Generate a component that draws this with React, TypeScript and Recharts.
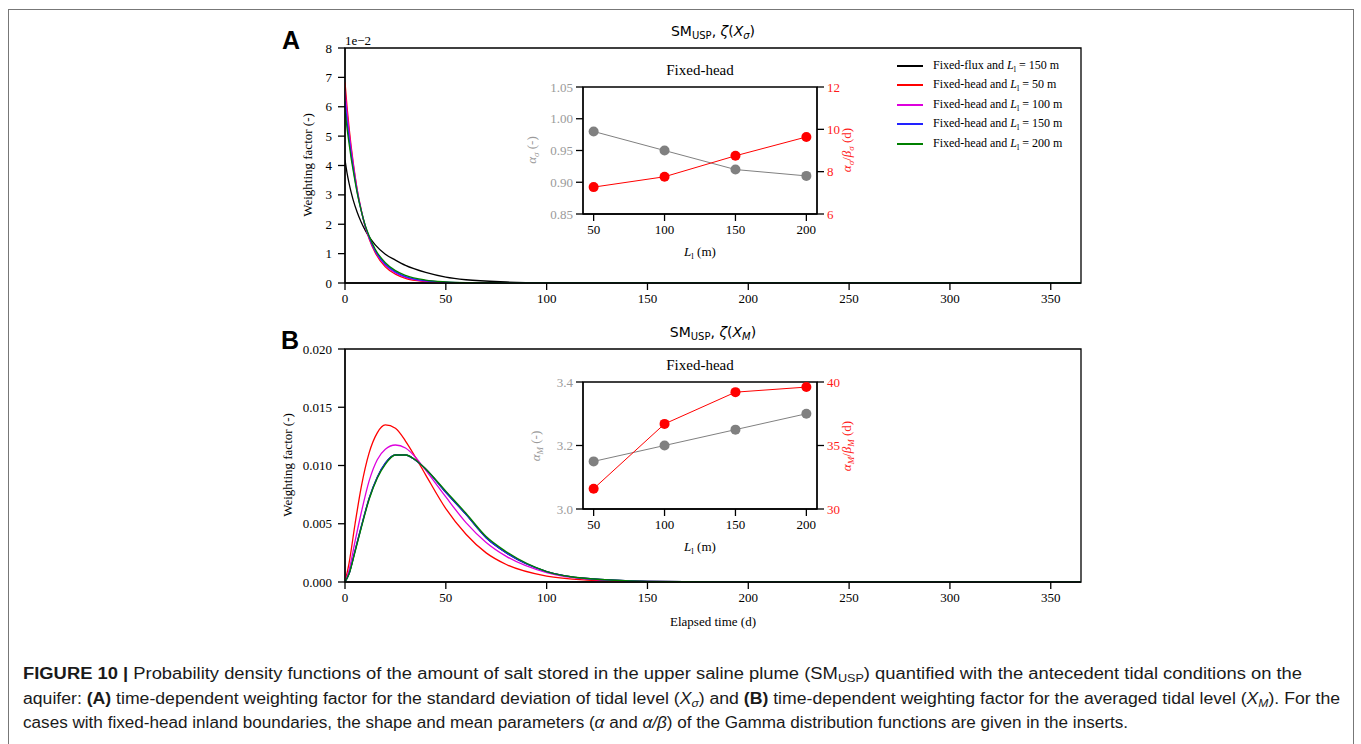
import React from 'react';
import { LineChart, Line, XAxis, YAxis, ReferenceArea, Legend } from 'recharts';

// ---- panel A: weighting factor for X_sigma (values in units of 1e-2) ----
const daysA = [0, 1, 2, 3, 4, 6, 8, 10, 12, 15, 20, 25, 30, 40, 50, 60, 80, 100, 150, 200, 365];
const fluxA = [4.19, 3.75, 3.4, 3.1, 2.84, 2.42, 2.08, 1.8, 1.57, 1.3, 0.98, 0.78, 0.6, 0.36, 0.2, 0.11, 0.035, 0.01, 0, 0, 0];
const head50A = [6.83, 6.0, 5.3, 4.68, 4.13, 3.2, 2.5, 1.92, 1.5, 1.03, 0.55, 0.3, 0.16, 0.05, 0.015, 0.005, 0, 0, 0, 0, 0];
const head100A = [6.55, 5.8, 5.15, 4.58, 4.07, 3.18, 2.5, 1.95, 1.53, 1.07, 0.6, 0.34, 0.19, 0.065, 0.022, 0.008, 0.001, 0, 0, 0, 0];
const head150A = [6.2, 5.5, 4.92, 4.4, 3.94, 3.12, 2.47, 1.95, 1.56, 1.1, 0.64, 0.38, 0.22, 0.08, 0.03, 0.011, 0.002, 0, 0, 0, 0];
const head200A = [5.9, 5.28, 4.75, 4.27, 3.85, 3.08, 2.47, 1.97, 1.6, 1.15, 0.69, 0.42, 0.26, 0.1, 0.04, 0.015, 0.003, 0, 0, 0, 0];

// ---- panel B: weighting factor for X_M ----
const daysB = [0, 2, 5, 8, 12, 16, 20, 25, 30, 35, 40, 50, 60, 70, 80, 100, 120, 150, 200, 365];
const fluxB = [0, 0.0007, 0.0027, 0.0047, 0.0072, 0.009, 0.0102, 0.0109, 0.0109, 0.01045, 0.0097, 0.0077, 0.0058, 0.0038, 0.0025, 0.0009, 0.0003, 0.00006, 0, 0];
const head50B = [0, 0.0016, 0.005, 0.0081, 0.0111, 0.0128, 0.01348, 0.0132, 0.0121, 0.0107, 0.0092, 0.0063, 0.0041, 0.0025, 0.0015, 0.0005, 0.00017, 0.00003, 0, 0];
const head100B = [0, 0.001, 0.0035, 0.0059, 0.0087, 0.0105, 0.0114, 0.01176, 0.0115, 0.0107, 0.0096, 0.0073, 0.0051, 0.0034, 0.0022, 0.0008, 0.00025, 0.00005, 0, 0];
const head150B = [0, 0.0007, 0.0027, 0.0047, 0.0072, 0.009, 0.0102, 0.0109, 0.0109, 0.01045, 0.0097, 0.0077, 0.0058, 0.0038, 0.0025, 0.0009, 0.0003, 0.00006, 0, 0];
const head200B = [0, 0.0007, 0.0026, 0.0046, 0.0071, 0.0089, 0.0101, 0.0109, 0.0109, 0.01047, 0.0097, 0.0078, 0.0059, 0.0039, 0.0026, 0.0009, 0.0003, 0.00006, 0, 0];

// ---- insets (fixed-head cases) ----
const insetL = [50, 100, 150, 200];
const alphaSigma = [0.98, 0.95, 0.92, 0.91];
const meanSigma = [7.27, 7.76, 8.75, 9.64];
const alphaM = [3.15, 3.2, 3.25, 3.3];
const meanM = [31.6, 36.7, 39.2, 39.6];

const xTicks = [0, 50, 100, 150, 200, 250, 300, 350];
const yTicksA = [0, 1, 2, 3, 4, 5, 6, 7, 8];
const yTicksB = [0, 0.005, 0.01, 0.015, 0.02];

const series = [
  { key: 'flux', kind: 'Fixed-flux', L: 150, color: '#000000' },
  { key: 'h50', kind: 'Fixed-head', L: 50, color: '#ff0000' },
  { key: 'h100', kind: 'Fixed-head', L: 100, color: '#dd00dd' },
  { key: 'h150', kind: 'Fixed-head', L: 150, color: '#2222ff' },
  { key: 'h200', kind: 'Fixed-head', L: 200, color: '#008000' },
];

const tableA = daysA.map((t, i) => ({
  t, flux: fluxA[i], h50: head50A[i], h100: head100A[i], h150: head150A[i], h200: head200A[i],
}));
const tableB = daysB.map((t, i) => ({
  t, flux: fluxB[i], h50: head50B[i], h100: head100B[i], h150: head150B[i], h200: head200B[i],
}));
const insetSigma = insetL.map((L, i) => ({ L, a: alphaSigma[i], m: meanSigma[i] }));
const insetM = insetL.map((L, i) => ({ L, a: alphaM[i], m: meanM[i] }));

const SERIF = '"Liberation Serif", "DejaVu Serif", serif';
const SANS = '"DejaVu Sans", sans-serif';
const tickStyle = { fontFamily: SERIF, fontSize: 13, fill: '#000' };
const axisStroke = { stroke: '#000', strokeWidth: 1.3 };

const Txt = ({ x, y, rot, style, children }: any) => (
  <div
    style={{
      position: 'absolute', left: x, top: y, whiteSpace: 'nowrap', lineHeight: 1,
      transform: `translate(-50%, -50%)${rot ? ' rotate(-90deg)' : ''}`, ...style,
    }}
  >
    {children}
  </div>
);

const LegendBox = (props: any) => {
  const { payload } = props;
  return (
    <div style={{ fontFamily: SERIF, fontSize: 12, color: '#000' }}>
      {(payload || []).map((p: any) => {
        const s = series.find((x) => x.key === p.dataKey)!;
        return (
          <div key={p.dataKey} style={{ display: 'flex', alignItems: 'center', height: 19.5 }}>
            <div style={{ width: 26, height: 2, background: s.color, marginRight: 10 }} />
            <span>
              {s.kind} and <i>L</i>
              <sub style={{ fontSize: 8 }}>l</sub> = {s.L} m
            </span>
          </div>
        );
      })}
    </div>
  );
};

const MainChart = ({ data, yDomain, yTicks, fmt, top, height, showLegend }: any) => (
  <div style={{ position: 'absolute', left: 0, top }}>
    <LineChart width={1361} height={height} data={data} margin={{ top: 28, right: 280, left: 285, bottom: 8 }}>
      <XAxis
        dataKey="t" type="number" domain={[0, 365]} ticks={xTicks} height={30}
        tickSize={7} tickMargin={4} tick={tickStyle} axisLine={axisStroke} tickLine={axisStroke}
        allowDataOverflow
      />
      <YAxis
        type="number" domain={yDomain} ticks={yTicks} width={60} tickFormatter={fmt}
        tickSize={7} tickMargin={6} tick={tickStyle} axisLine={axisStroke} tickLine={axisStroke}
        allowDataOverflow
      />
      <ReferenceArea
        x1={0} x2={365} y1={yDomain[0]} y2={yDomain[1]} fill="none" fillOpacity={0}
        stroke="#000" strokeWidth={1.3} ifOverflow="visible"
      />
      {series.map((s) => (
        <Line
          key={s.key} dataKey={s.key} name={s.kind} type="monotone" stroke={s.color}
          strokeWidth={1.3} dot={false} isAnimationActive={false}
        />
      ))}
      {showLegend && (
        <Legend
          content={<LegendBox />} layout="vertical" verticalAlign="middle" align="center"
          wrapperStyle={{ left: 897, top: 36, width: 190 }}
        />
      )}
    </LineChart>
  </div>
);

const Inset = ({ data, top, aDomain, aTicks, aFmt, mDomain, mTicks }: any) => (
  <div style={{ position: 'absolute', left: 520, top }}>
    <LineChart width={340} height={210} data={data} margin={{ top: 27, right: 13, left: 13, bottom: 31 }}>
      <XAxis
        dataKey="L" type="number" domain={[42.5, 207.5]} ticks={insetL} height={25}
        tickSize={7} tickMargin={4} tick={tickStyle} axisLine={axisStroke} tickLine={axisStroke}
      />
      <YAxis
        yAxisId="a" type="number" domain={aDomain} ticks={aTicks} width={50} tickFormatter={aFmt}
        tickSize={7} tickMargin={3} tick={{ ...tickStyle, fill: '#9a9a9a' }} axisLine={axisStroke} tickLine={axisStroke}
      />
      <YAxis
        yAxisId="m" orientation="right" type="number" domain={mDomain} ticks={mTicks} width={30}
        tickSize={7} tickMargin={3} tick={{ ...tickStyle, fill: '#ff1a1a' }} axisLine={axisStroke} tickLine={axisStroke}
      />
      <ReferenceArea
        yAxisId="a" x1={42.5} x2={207.5} y1={aDomain[0]} y2={aDomain[1]} fill="none" fillOpacity={0}
        stroke="#000" strokeWidth={1.3} ifOverflow="visible"
      />
      <Line
        yAxisId="a" dataKey="a" stroke="#808080" strokeWidth={1} isAnimationActive={false}
        dot={{ r: 5, fill: '#808080', stroke: 'none' }}
      />
      <Line
        yAxisId="m" dataKey="m" stroke="#ff0000" strokeWidth={1} isAnimationActive={false}
        dot={{ r: 5, fill: '#ff0000', stroke: 'none' }}
      />
    </LineChart>
  </div>
);

const Title = ({ y, sub }: any) => (
  <Txt x={713} y={y} style={{ fontFamily: SANS, fontSize: 14 }}>
    SM<sub style={{ fontSize: 10, verticalAlign: '-3px' }}>USP</sub>, <i>ζ</i>(<i>X</i>
    <sub style={{ fontSize: 10, verticalAlign: '-3px' }}><i>{sub}</i></sub>)
  </Txt>
);

const Sub = ({ children }: any) => (
  <tspan dy={3} fontSize={11}>{children}</tspan>
);

export default function App() {
  return (
    <div style={{ position: 'absolute', left: 0, top: 0, width: 1361, height: 744, background: '#fff', overflow: 'hidden' }}>
      {/* figure frame */}
      <div style={{ position: 'absolute', left: 8, top: 9, width: 1344, height: 760, border: '1px solid #777' }} />

      <MainChart data={tableA} yDomain={[0, 8]} yTicks={yTicksA} fmt={(v: number) => `${v}`} top={20} height={301} showLegend />
      <MainChart data={tableB} yDomain={[0, 0.02]} yTicks={yTicksB} fmt={(v: number) => v.toFixed(3)} top={321} height={299} />

      <Inset data={insetSigma} top={60} aDomain={[0.85, 1.05]} aTicks={[0.85, 0.9, 0.95, 1.0, 1.05]}
        aFmt={(v: number) => v.toFixed(2)} mDomain={[6, 12]} mTicks={[6, 8, 10, 12]} />
      <Inset data={insetM} top={355} aDomain={[3.0, 3.4]} aTicks={[3.0, 3.2, 3.4]}
        aFmt={(v: number) => v.toFixed(1)} mDomain={[30, 40]} mTicks={[30, 35, 40]} />

      {/* panel letters, titles, labels */}
      <Txt x={291} y={40} style={{ fontFamily: '"Liberation Sans", Arial, sans-serif', fontWeight: 700, fontSize: 25 }}>A</Txt>
      <Txt x={290} y={340} style={{ fontFamily: '"Liberation Sans", Arial, sans-serif', fontWeight: 700, fontSize: 25 }}>B</Txt>
      <Txt x={358} y={40} style={{ fontFamily: SERIF, fontSize: 13 }}>1e−2</Txt>
      <Title y={32} sub="σ" />
      <Title y={333} sub="M" />
      <Txt x={307} y={165} rot style={{ fontFamily: SERIF, fontSize: 13 }}>Weighting factor (-)</Txt>
      <Txt x={287} y={465} rot style={{ fontFamily: SERIF, fontSize: 13 }}>Weighting factor (-)</Txt>
      <Txt x={713} y={621} style={{ fontFamily: SERIF, fontSize: 13 }}>Elapsed time (d)</Txt>

      <Txt x={700} y={70} style={{ fontFamily: SERIF, fontSize: 15 }}>Fixed-head</Txt>
      <Txt x={700} y={365} style={{ fontFamily: SERIF, fontSize: 15 }}>Fixed-head</Txt>
      <Txt x={700} y={253} style={{ fontFamily: SERIF, fontSize: 13 }}><i>L</i><sub style={{ fontSize: 9 }}>l</sub> (m)</Txt>
      <Txt x={700} y={548} style={{ fontFamily: SERIF, fontSize: 13 }}><i>L</i><sub style={{ fontSize: 9 }}>l</sub> (m)</Txt>
      <Txt x={533} y={150} rot style={{ fontFamily: SERIF, fontSize: 13, color: '#9a9a9a' }}>
        <i>α</i><sub style={{ fontSize: 9 }}><i>σ</i></sub> (-)
      </Txt>
      <Txt x={848} y={150} rot style={{ fontFamily: SERIF, fontSize: 13, color: '#ff1a1a' }}>
        <i>α</i><sub style={{ fontSize: 9 }}><i>σ</i></sub>/<i>β</i><sub style={{ fontSize: 9 }}><i>σ</i></sub> (d)
      </Txt>
      <Txt x={537} y={446} rot style={{ fontFamily: SERIF, fontSize: 13, color: '#9a9a9a' }}>
        <i>α</i><sub style={{ fontSize: 9 }}><i>M</i></sub> (-)
      </Txt>
      <Txt x={848} y={446} rot style={{ fontFamily: SERIF, fontSize: 13, color: '#ff1a1a' }}>
        <i>α</i><sub style={{ fontSize: 9 }}><i>M</i></sub>/<i>β</i><sub style={{ fontSize: 9 }}><i>M</i></sub> (d)
      </Txt>

      {/* caption */}
      <svg width={1361} height={744} style={{ position: 'absolute', left: 0, top: 0 }}>
        <g fontFamily='"Liberation Sans", Arial, sans-serif' fontSize={16} fill="#1a1a1a">
          <text x={23} y={679} textLength={1279} lengthAdjust="spacingAndGlyphs">
            <tspan fontWeight={700}>FIGURE 10 | </tspan>
            Probability density functions of the amount of salt stored in the upper saline plume (SM
            <Sub>USP</Sub>
            <tspan dy={-3}>) quantified with the antecedent tidal conditions on the</tspan>
          </text>
          <text x={23} y={704} textLength={1317} lengthAdjust="spacingAndGlyphs">
            aquifer: <tspan fontWeight={700}>(A)</tspan> time-dependent weighting factor for the standard deviation of tidal level (
            <tspan fontStyle="italic">X</tspan>
            <tspan dy={3} fontSize={11} fontStyle="italic">σ</tspan>
            <tspan dy={-3}>) and </tspan>
            <tspan fontWeight={700}>(B)</tspan> time-dependent weighting factor for the averaged tidal level (
            <tspan fontStyle="italic">X</tspan>
            <tspan dy={3} fontSize={11} fontStyle="italic">M</tspan>
            <tspan dy={-3}>). For the</tspan>
          </text>
          <text x={23} y={728} textLength={1105} lengthAdjust="spacingAndGlyphs">
            cases with fixed-head inland boundaries, the shape and mean parameters (
            <tspan fontStyle="italic">α</tspan> and <tspan fontStyle="italic">α/β</tspan>) of the Gamma distribution functions are given in the inserts.
          </text>
        </g>
      </svg>
    </div>
  );
}
